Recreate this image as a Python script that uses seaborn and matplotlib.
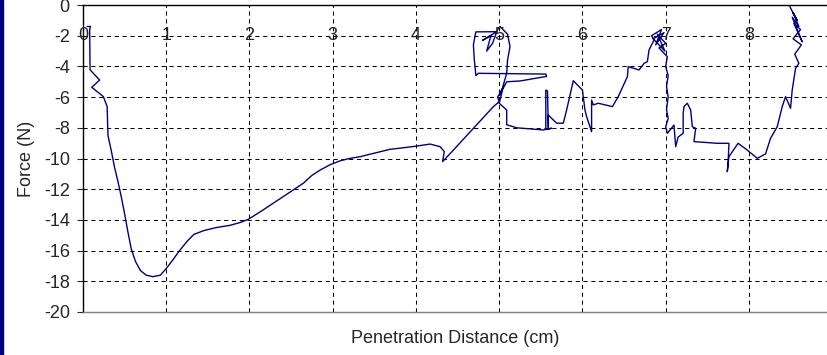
import pandas as pd
import matplotlib
matplotlib.use("Agg")
import matplotlib.pyplot as plt
import seaborn as sns
from matplotlib.patches import Rectangle

# penetration distance (cm) and force (N)
dist = [0.05, 0.09, 0.08, 0.085, 0.09, 0.2, 0.105, 0.245, 0.29, 0.30, 0.34, 0.38, 0.42,
        0.46, 0.5, 0.54, 0.58, 0.63, 0.69, 0.76, 0.84, 0.93, 1.01, 1.08, 1.16, 1.25, 1.33,
        1.45, 1.6, 1.77, 1.9, 1.99, 2.15, 2.29, 2.47, 2.65, 2.75, 2.85, 2.97, 3.09, 3.2,
        3.33, 3.5, 3.69, 3.85, 4.01, 4.17, 4.29, 4.34, 4.32, 4.45, 4.69, 4.93, 5.0, 4.98,
        5.03, 5.0, 5.05, 5.02, 5.09, 5.25, 5.57, 5.56, 4.75, 4.72, 4.70, 4.69, 4.71, 4.72,
        4.97, 4.8, 4.9, 4.85, 4.92, 4.98, 5.01, 5.1, 5.13, 5.1, 5.09, 5.05, 5.03, 5.0, 5.09,
        5.09, 5.21, 5.53, 5.63, 5.56, 5.56, 5.58, 5.59, 5.59, 5.69, 5.77, 5.81, 5.89, 6.0,
        6.03, 6.05, 6.09, 6.11, 6.11, 6.13, 6.19, 6.36, 6.43, 6.54, 6.55, 6.68, 6.74, 6.78,
        6.80, 6.86, 6.83, 6.95, 6.88, 6.98, 6.85, 6.99, 6.9, 7.0, 6.92, 7.02, 7.0, 7.03,
        7.01, 7.03, 7.01, 7.03, 7.0, 7.02, 7.1, 7.12, 7.15, 7.21, 7.21, 7.22, 7.26, 7.3,
        7.32, 7.36, 7.34, 7.62, 7.76, 7.75, 7.74, 7.76, 7.87, 7.98, 8.1, 8.2, 8.26, 8.34,
        8.4, 8.44, 8.5, 8.52, 8.56, 8.6, 8.55, 8.63, 8.53, 8.62, 8.54, 8.64, 8.52, 8.6,
        8.53, 8.58, 8.5, 8.49]
force = [-1.4, -1.4, -1.6, -4.2, -4.25, -4.89, -5.36, -5.97, -6.62, -8.5, -9.5, -10.6,
         -11.5, -12.5, -13.6, -14.8, -15.9, -16.7, -17.3, -17.6, -17.7, -17.6, -17.1, -16.6,
         -16.0, -15.4, -14.95, -14.7, -14.5, -14.35, -14.15, -13.95, -13.4, -12.9, -12.25,
         -11.6, -11.1, -10.75, -10.4, -10.15, -10.0, -9.88, -9.65, -9.4, -9.3, -9.19, -9.06,
         -9.23, -9.55, -10.2, -9.45, -8.03, -6.62, -6.3, -6.0, -5.6, -5.9, -5.3, -5.7, -5.0,
         -4.95, -4.65, -4.5, -4.45, -4.6, -3.5, -2.6, -2.0, -1.75, -1.74, -2.3, -2.0, -3.0,
         -2.5, -1.6, -1.4, -1.9, -2.7, -3.6, -4.45, -5.2, -5.75, -6.4, -6.84, -7.8, -8.0,
         -8.14, -8.03, -8.1, -5.54, -5.6, -8.0, -7.17, -7.7, -7.7, -6.84, -4.93, -5.54,
         -6.84, -7.27, -7.93, -8.25, -6.19, -6.51, -6.4, -6.62, -5.97, -4.67, -4.02, -4.23,
         -3.8, -3.69, -2.93, -2.28, -2.0, -1.6, -2.6, -1.8, -2.2, -3.0, -1.9, -2.5, -2.8,
         -3.37, -4.0, -4.6, -5.3, -6.0, -6.8, -7.4, -7.93, -8.36, -7.82, -9.23, -8.6, -8.36,
         -7.06, -6.62, -6.4, -6.84, -7.93, -8.03, -8.9, -9.01, -9.01, -10.3, -10.86, -9.88,
         -9.01, -9.45, -9.99, -9.7, -8.68, -7.93, -6.62, -5.97, -6.73, -5.54, -4.13, -3.8,
         -3.2, -2.6, -2.2, -1.6, -1.2, -2.4, -0.8, -1.4, -0.5, -1.0, -0.2, -0.07]

x_ticks = [0, 1, 2, 3, 4, 5, 6, 7, 8]
y_ticks = [0, -2, -4, -6, -8, -10, -12, -14, -16, -18, -20]

df = pd.DataFrame({"dist": dist, "force": force})

sns.set_style("white")
plt.rcParams["font.family"] = ["Liberation Sans", "DejaVu Sans"]
plt.rcParams["axes.unicode_minus"] = False

fig = plt.figure(figsize=(8.28, 3.55), dpi=100)
ax = fig.add_axes([83 / 828, 1 - 312 / 355, 1 - 83 / 828, 307 / 355])

sns.lineplot(data=df, x="dist", y="force", sort=False, estimator=None,
             color="#000080", linewidth=1.0, ax=ax)

ax.set_xlim(0, 8.95)
ax.set_ylim(-20, 0)
ax.set_xticks(x_ticks)
ax.set_yticks(y_ticks)
ax.set_yticklabels([str(v) for v in y_ticks], fontsize=13)
ax.tick_params(axis="x", length=0, labelbottom=False)
ax.tick_params(axis="y", direction="out", length=4.5, width=0.8, pad=5, left=True)
ax.grid(True, color="black", linestyle=(0, (4, 3.5)), linewidth=0.75)

# x labels sit just under the top axis (y=0 axis)
for t in x_ticks:
    ax.text(t, -2, str(t), ha="center", va="center", fontsize=13)

for s in ["left", "top"]:
    ax.spines[s].set_color("black")
    ax.spines[s].set_linewidth(1.0)
ax.spines["bottom"].set_color("#808080")
ax.spines["bottom"].set_linewidth(1.0)
ax.spines["right"].set_visible(False)

ax.set_xlabel("Penetration Distance (cm)", fontsize=13, labelpad=13)
ax.set_ylabel("Force (N)", fontsize=13, labelpad=6)

fig.add_artist(Rectangle((0, 0), 3 / 828, 1, transform=fig.transFigure,
                         color="#000080", zorder=10))

fig.savefig("out.png", dpi=100)
